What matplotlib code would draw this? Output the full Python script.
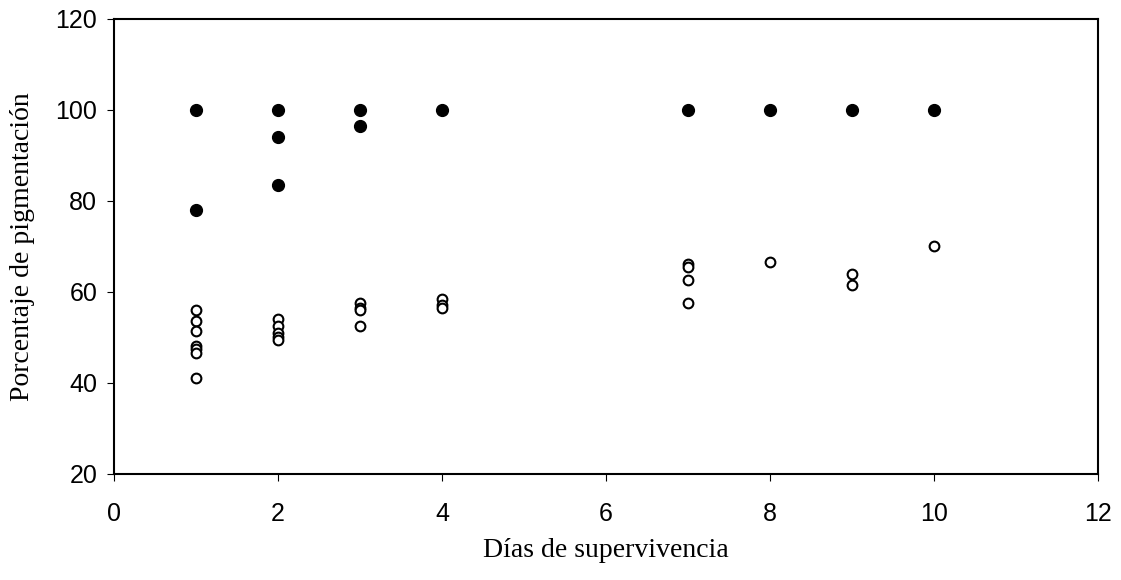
import matplotlib.pyplot as plt

# Días de supervivencia vs porcentaje de pigmentación
dias_abiertos = [1, 1, 1, 1, 1, 1, 1,
                 2, 2, 2, 2, 2,
                 3, 3, 3, 3,
                 4, 4, 4,
                 7, 7, 7, 7,
                 8,
                 9, 9,
                 10]
pigm_abiertos = [56, 53.5, 51.5, 48, 47.5, 46.5, 41,
                 54, 52.5, 51, 50, 49.5,
                 57.5, 56.5, 56, 52.5,
                 58.5, 57, 56.5,
                 66, 65.5, 62.5, 57.5,
                 66.5,
                 64, 61.5,
                 70]

dias_llenos = [1, 1, 2, 2, 2, 3, 3, 4, 7, 8, 9, 10]
pigm_llenos = [100, 78, 100, 94, 83.5, 100, 96.5, 100, 100, 100, 100, 100]

xticks = [0, 2, 4, 6, 8, 10, 12]
yticks = [20, 40, 60, 80, 100, 120]

fig = plt.figure(figsize=(11.21, 5.8), dpi=100)
ax = fig.add_axes([0.1017, 0.1828, 0.8778, 0.7853])

ax.plot(dias_abiertos, pigm_abiertos, 'o', linestyle='none', markersize=7,
        markerfacecolor='white', markeredgecolor='black', markeredgewidth=1.5)
ax.plot(dias_llenos, pigm_llenos, 'o', linestyle='none', markersize=8.5,
        color='black')

ax.set_xlim(0, 12)
ax.set_ylim(20, 120)
ax.set_xticks(xticks)
ax.set_yticks(yticks)

for s in ax.spines.values():
    s.set_linewidth(1.5)

ax.tick_params(direction='out', length=5, width=0.8, pad=7,
               labelsize=18, labelfontfamily='Liberation Sans')
ax.tick_params(axis='x', pad=15)

ax.set_xlabel('Días de supervivencia', fontsize=20, family='Liberation Serif',
              labelpad=9)
ax.set_ylabel('Porcentaje de pigmentación', fontsize=20,
              family='Liberation Serif', labelpad=15)

fig.savefig('out.png', dpi=100)
